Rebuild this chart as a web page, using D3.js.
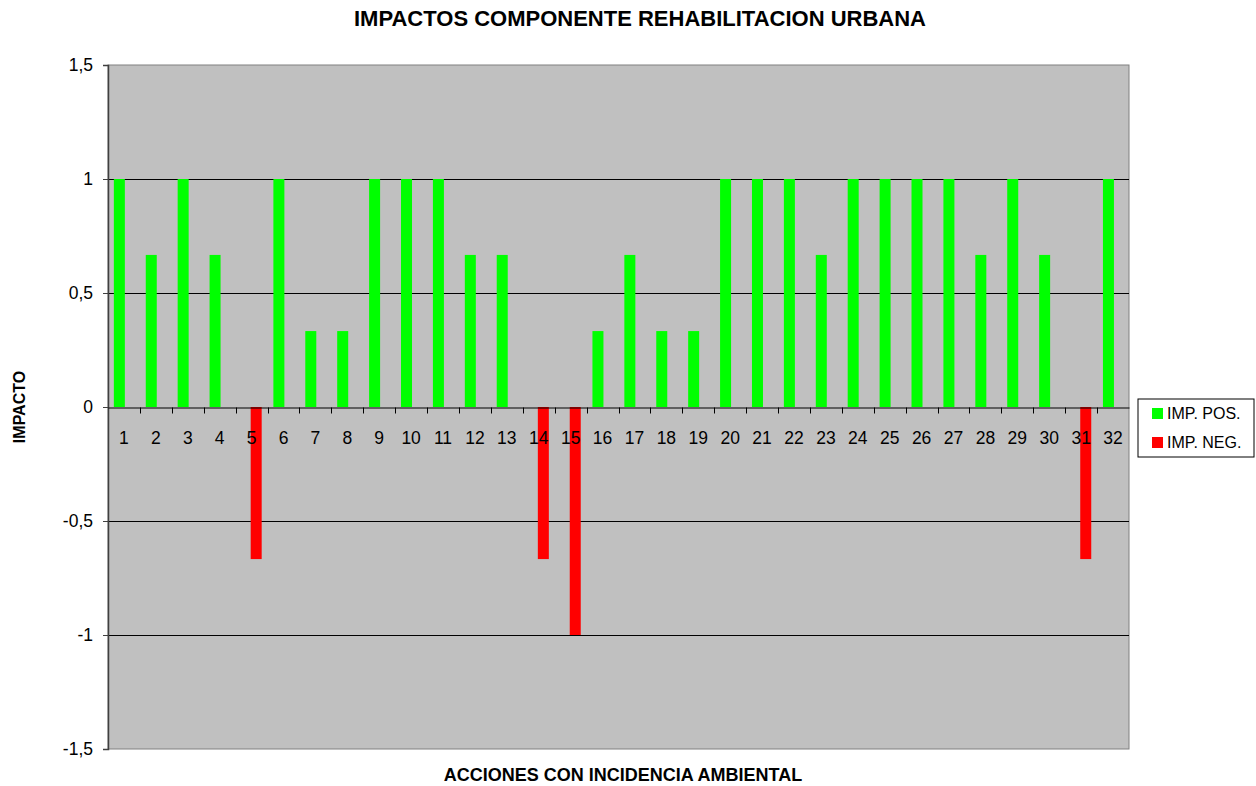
<!DOCTYPE html>
<html>
<head>
<meta charset="utf-8">
<script src="https://cdn.jsdelivr.net/npm/d3@7"></script>
<style>
  body { margin: 0; background: #fff; }
  text { font-family: Arial, "Liberation Sans", sans-serif; }
</style>
</head>
<body>
<script>
// data
var acciones = d3.range(1, 33).map(String);
var impPos = [1, 0.667, 1, 0.667, 0, 1, 0.333, 0.333, 1, 1, 1, 0.667, 0.667, 0, 0, 0.333,
              0.667, 0.333, 0.333, 1, 1, 1, 0.667, 1, 1, 1, 1, 0.667, 1, 0.667, 0, 1];
var impNeg = [0, 0, 0, 0, -0.667, 0, 0, 0, 0, 0, 0, 0, 0, -0.667, -1, 0,
              0, 0, 0, 0, 0, 0, 0, 0, 0, 0, 0, 0, 0, 0, -0.667, 0];
var yTicks = [-1.5, -1, -0.5, 0, 0.5, 1, 1.5];
var series = [
  {name: "IMP. POS.", values: impPos, color: "#00ff00"},
  {name: "IMP. NEG.", values: impNeg, color: "#ff0000"}
];

var W = 1256, H = 786;
var margin = {top: 65, right: 127, bottom: 37, left: 108};
var width = W - margin.left - margin.right,
    height = H - margin.top - margin.bottom;

var svg = d3.select("body").append("svg")
    .attr("width", W)
    .attr("height", H);

var g = svg.append("g")
    .attr("transform", "translate(" + margin.left + "," + margin.top + ")");

var x = d3.scaleBand()
    .domain(acciones)
    .range([0, width])
    .padding(0);

var y = d3.scaleLinear()
    .domain([-1.5, 1.5])
    .range([height, 0]);

// plot background
g.append("rect")
    .attr("width", width)
    .attr("height", height)
    .attr("fill", "#c0c0c0")
    .attr("stroke", "#808080")
    .attr("stroke-width", 1);

// gridlines
g.append("g")
    .selectAll("line")
    .data(yTicks.filter(function(d) { return d != 0 && Math.abs(d) < 1.5; }))
    .enter().append("line")
    .attr("x1", 0)
    .attr("x2", width)
    .attr("y1", function(d) { return Math.round(y(d)) + 0.5; })
    .attr("y2", function(d) { return Math.round(y(d)) + 0.5; })
    .attr("stroke", "#000")
    .attr("stroke-width", 1);

// bars (two series, slightly overlapping like the original)
var barW = 11, offset = [-4.6, 4.6];
series.forEach(function(s, i) {
    g.append("g")
        .selectAll("rect")
        .data(s.values.map(function(v, j) { return {cat: acciones[j], v: v}; })
            .filter(function(d) { return d.v != 0; }))
        .enter().append("rect")
        .attr("x", function(d) { return x(d.cat) + x.bandwidth() / 2 + offset[i] - barW / 2; })
        .attr("width", barW)
        .attr("y", function(d) { return y(Math.max(0, d.v)); })
        .attr("height", function(d) { return Math.abs(y(d.v) - y(0)); })
        .attr("fill", s.color);
});

// y axis
var yAxis = g.append("g")
    .call(d3.axisLeft(y).tickValues(yTicks).tickSize(5).tickPadding(10)
        .tickFormat(function(d) { return String(d).replace(".", ","); }));
yAxis.select(".domain").attr("stroke", "#404040").attr("stroke-width", 1.5);
yAxis.selectAll(".tick line").attr("stroke", "#404040");
yAxis.selectAll("text")
    .style("font-size", "17.5px")
    .attr("fill", "#000");

// zero line with category ticks
var xAxis = g.append("g")
    .attr("transform", "translate(0," + (Math.round(y(0)) + 0.5) + ")")
    .call(d3.axisBottom(x).tickSize(0).tickPadding(24));
xAxis.select(".domain").attr("stroke", "#000").attr("stroke-width", 1);
xAxis.selectAll("text")
    .style("font-size", "17.5px")
    .attr("fill", "#000");
xAxis.append("g")
    .selectAll("line")
    .data(acciones.slice(1))
    .enter().append("line")
    .attr("x1", function(d) { return Math.round(x(d)) + 0.5; })
    .attr("x2", function(d) { return Math.round(x(d)) + 0.5; })
    .attr("y1", 0)
    .attr("y2", 6)
    .attr("stroke", "#000");

// title
svg.append("text")
    .attr("x", 640)
    .attr("y", 26)
    .attr("text-anchor", "middle")
    .style("font-size", "22px")
    .style("font-weight", "bold")
    .text("IMPACTOS COMPONENTE REHABILITACION URBANA");

// axis titles
svg.append("text")
    .attr("x", 623)
    .attr("y", 781)
    .attr("text-anchor", "middle")
    .style("font-size", "18px")
    .style("font-weight", "bold")
    .text("ACCIONES CON INCIDENCIA AMBIENTAL");

svg.append("text")
    .attr("transform", "translate(25," + (margin.top + y(0)) + ") rotate(-90)")
    .attr("text-anchor", "middle")
    .style("font-size", "16px")
    .style("font-weight", "bold")
    .text("IMPACTO");

// legend
var legend = svg.append("g")
    .attr("transform", "translate(1138,399)");
legend.append("rect")
    .attr("width", 116)
    .attr("height", 58)
    .attr("fill", "#fff")
    .attr("stroke", "#000");
series.forEach(function(s, i) {
    var row = legend.append("g")
        .attr("transform", "translate(14," + (20 + i * 29) + ")");
    row.append("rect")
        .attr("x", 0)
        .attr("y", -11)
        .attr("width", 11)
        .attr("height", 11)
        .attr("fill", s.color);
    row.append("text")
        .attr("x", 15)
        .attr("y", 0)
        .style("font-size", "16px")
        .text(s.name);
});
</script>
</body>
</html>
